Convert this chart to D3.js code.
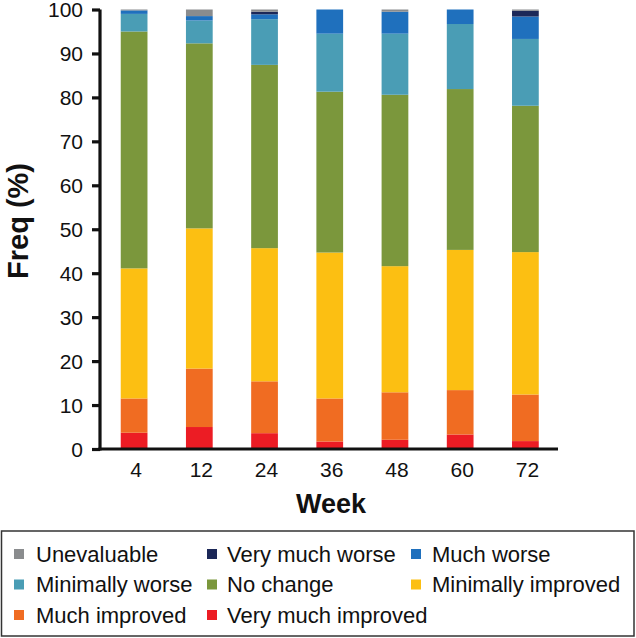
<!DOCTYPE html>
<html><head><meta charset="utf-8">
<script src="https://cdn.jsdelivr.net/npm/d3@7"></script>
<style>body{margin:0;background:#fff}svg{display:block}text{font-family:"Liberation Sans",Arial,sans-serif;fill:#111}</style>
</head><body><svg id="c" width="636" height="638"></svg>
<script>
const weeks = ["4","12","24","36","48","60","72"];
const categories = ["Very much improved","Much improved","Minimally improved","No change","Minimally worse","Much worse","Very much worse","Unevaluable"];
const veryMuchImproved = [3.7, 5.0, 3.6, 1.7, 2.1, 3.3, 1.8];
const muchImproved     = [7.8, 13.3, 11.8, 9.8, 10.8, 10.1, 10.6];
const minImproved      = [29.6, 31.9, 30.3, 33.2, 28.7, 31.9, 32.4];
const noChange         = [53.9, 42.1, 41.7, 36.6, 39.0, 36.6, 33.3];
const minWorse         = [4.0, 5.2, 10.4, 13.2, 13.9, 14.8, 15.2];
const muchWorse        = [0.8, 1.0, 1.1, 5.5, 5.0, 3.3, 5.1];
const veryMuchWorse    = [0, 0, 0.6, 0, 0, 0, 1.3];
const unevaluable      = [0.2, 1.5, 0.5, 0, 0.5, 0, 0.3];
const yTicks = [0,10,20,30,40,50,60,70,80,90,100];
const legendOrder = ["Unevaluable","Very much worse","Much worse","Minimally worse","No change","Minimally improved","Much improved","Very much improved"];

const seriesVals = [veryMuchImproved, muchImproved, minImproved, noChange, minWorse, muchWorse, veryMuchWorse, unevaluable];
const colors = {"Very much improved":"#ec1c24","Much improved":"#f06c22","Minimally improved":"#fcbf12","No change":"#7b973c","Minimally worse":"#4a9db5","Much worse":"#1f70bd","Very much worse":"#1c2858","Unevaluable":"#8a8c8e"};

const table = weeks.map((w,i)=>{const o={week:w}; categories.forEach((c,k)=>o[c]=seriesVals[k][i]); return o;});
const stack = d3.stack().keys(categories)(table);

const svg = d3.select("#c");
const x = d3.scaleBand().domain(weeks).range([101.5, 558]).padding(0);
const y = d3.scaleLinear().domain([0,100]).range([449, 9.5]);
const bw = x.bandwidth()*0.41;

svg.append("g").selectAll("g").data(stack).join("g")
  .attr("fill", d=>colors[d.key])
  .selectAll("rect").data(d=>d).join("rect")
  .attr("x", d=>x(d.data.week)+x.bandwidth()/2-bw/2)
  .attr("width", bw)
  .attr("y", d=>y(d[1]))
  .attr("height", d=>Math.max(0, y(d[0])-y(d[1])));

// y axis
const ya = svg.append("g").attr("transform","translate(100,0)")
  .call(d3.axisLeft(y).tickValues(yTicks).tickSize(8).tickPadding(9).tickSizeOuter(0));
ya.select(".domain").attr("stroke","#111").attr("stroke-width",3.2).attr("d","M0,"+(y(0)+1.5)+"V"+y(100));
ya.selectAll(".tick line").attr("stroke","#111").attr("stroke-width",3.2);
ya.selectAll(".tick text").attr("font-size",21).attr("fill","#111").attr("font-family","Liberation Sans, Arial, sans-serif").attr("dy","0.34em");

// x axis
const xa = svg.append("g").attr("transform","translate(0,"+(y(0))+")")
  .call(d3.axisBottom(x).tickSize(0).tickPadding(13));
xa.select(".domain").attr("stroke","#111").attr("stroke-width",3.2).attr("d","M98.4,0H558");
xa.selectAll(".tick text").attr("font-size",21).attr("fill","#111").attr("font-family","Liberation Sans, Arial, sans-serif").attr("dx",2);

svg.append("text").attr("x",331).attr("y",513).attr("text-anchor","middle")
  .attr("font-size",27).attr("font-weight","bold").text("Week");
svg.append("text").attr("transform","translate(28,221) rotate(-90)").attr("text-anchor","middle")
  .attr("font-size",29).attr("font-weight","bold").text("Freq (%)");

// legend
svg.append("rect").attr("x",1.5).attr("y",531).attr("width",632.5).attr("height",105)
  .attr("fill","none").attr("stroke","#333").attr("stroke-width",1.5);
const colX = [[14,36],[207,227],[411,432]];
const rowY = [561.5, 592, 622.5];
const lg = svg.append("g").selectAll("g").data(legendOrder).join("g")
  .attr("transform",(d,i)=>"translate(0,"+rowY[Math.floor(i/3)]+")");
lg.append("rect").attr("x",(d,i)=>colX[i%3][0]).attr("y",-12.5).attr("width",10).attr("height",10).attr("fill",d=>colors[d]);
lg.append("text").attr("x",(d,i)=>colX[i%3][1]).attr("y",0).attr("font-size",22).text(d=>d);
</script></body></html>
